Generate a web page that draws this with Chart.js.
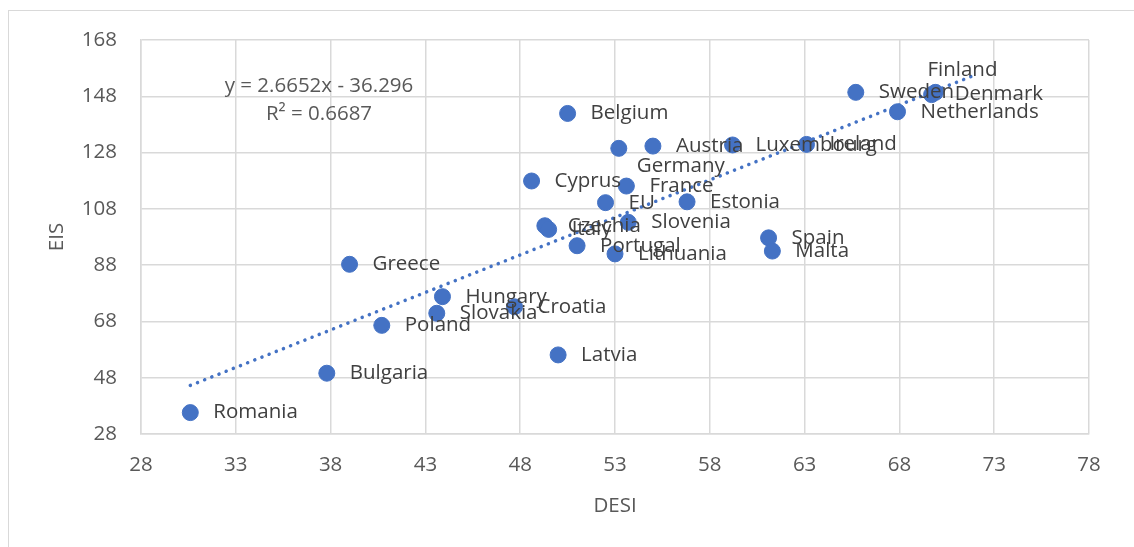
<!DOCTYPE html>
<html>
<head>
<meta charset="utf-8">
<script src="https://cdn.jsdelivr.net/npm/chart.js@4.4.1/dist/chart.umd.min.js"></script>
<style>
  html, body { margin: 0; padding: 0; background: #fff; overflow: hidden; }
  #wrap { position: relative; width: 1134px; height: 547px; }
  #frame { position: absolute; left: 8px; top: 10px; width: 1300px; height: 700px;
           border-top: 1px solid #d9d9d9; border-left: 1px solid #d9d9d9; }
  canvas { position: absolute; left: 0; top: 0; }
</style>
</head>
<body>
<div id="wrap">
  <div id="frame"></div>
  <canvas id="myChart" width="1134" height="547"></canvas>
</div>
<script>
// countries and their values (DESI on x, EIS on y)
const countries = ['Romania', 'Bulgaria', 'Greece', 'Poland', 'Hungary', 'Slovakia', 'Croatia',
  'Latvia', 'Belgium', 'Germany', 'Austria', 'Cyprus', 'France', 'EU', 'Estonia', 'Slovenia',
  'Czechia', 'Italy', 'Portugal', 'Lithuania', 'Luxembourg', 'Ireland', 'Sweden', 'Finland',
  'Denmark', 'Netherlands', 'Spain', 'Malta'];
const desi = [30.6, 37.8, 39.0, 40.7, 43.9, 43.6, 47.7,
  50.0, 50.5, 53.2, 55.0, 48.6, 53.6, 52.5, 56.8, 53.7,
  49.3, 49.5, 51.0, 53.0, 59.2, 63.1, 65.7, 69.9,
  69.7, 67.9, 61.1, 61.3];
const eis = [35.6, 49.6, 88.3, 66.6, 76.8, 70.9, 73.2,
  56.1, 141.9, 129.5, 130.3, 117.9, 116.1, 110.2, 110.5, 103.2,
  102.0, 100.7, 94.9, 92.0, 130.7, 130.9, 149.4, 149.4,
  148.6, 142.5, 97.7, 93.0];

// linear trendline as shown on the chart
const slope = 2.6652;
const intercept = -36.296;
const rSquared = 0.6687;
const trendX = [30.6, 72.0];

const xTicks = [28, 78, 5];   // min, max, step
const yTicks = [28, 168, 20];

const points = countries.map((c, i) => ({ x: desi[i], y: eis[i], name: c }));
const trend = trendX.map(x => ({ x: x, y: slope * x + intercept }));

// a few labels were dragged away from the default right-hand spot
const labelShift = {
  Finland: [-8, -22],
  Germany: [18, 18]
};

const FONT = '"Open Sans", "Liberation Sans", sans-serif';
const FSIZE = 20.5;
const BLUE = '#4472C4';

const labelPlugin = {
  id: 'pointLabels',
  afterDatasetsDraw(chart) {
    const ctx = chart.ctx;
    const meta = chart.getDatasetMeta(0);
    ctx.save();
    ctx.font = FSIZE + 'px ' + FONT;
    ctx.fillStyle = '#404040';
    ctx.textBaseline = 'middle';
    ctx.textAlign = 'left';
    meta.data.forEach((el, i) => {
      const name = countries[i];
      const s = labelShift[name];
      let x = el.x + 23, y = el.y;
      if (s) { x = el.x + s[0]; y = el.y + s[1]; }
      ctx.fillText(name, x, y);
    });
    // trendline equation
    const a = chart.chartArea;
    ctx.fillStyle = '#595959';
    ctx.textAlign = 'center';
    ctx.fillText('y = ' + slope + 'x - ' + Math.abs(intercept), a.left + 178, a.top + 46);
    ctx.fillText('R² = ' + rSquared, a.left + 178, a.top + 74);
    ctx.restore();
  }
};

let ctx = document.getElementById('myChart');
new Chart(ctx, {
  type: 'scatter',
  data: {
    datasets: [
      {
        data: points,
        backgroundColor: BLUE,
        borderColor: BLUE,
        pointRadius: 8,
        pointHoverRadius: 8,
        order: 1
      },
      {
        type: 'line',
        data: trend,
        showLine: true,
        borderColor: BLUE,
        borderWidth: 3.5,
        borderDash: [0.1, 7.6],
        borderCapStyle: 'round',
        pointRadius: 0,
        fill: false,
        order: 0
      }
    ]
  },
  options: {
    responsive: false,
    animation: false,
    layout: { padding: { top: 40, right: 45, bottom: 0, left: 0 } },
    plugins: {
      legend: { display: false },
      tooltip: { enabled: false }
    },
    scales: {
      x: {
        type: 'linear',
        min: xTicks[0], max: xTicks[1],
        ticks: { stepSize: xTicks[2], padding: 19, color: '#595959', font: { family: FONT, size: FSIZE } },
        grid: { color: '#d9d9d9', lineWidth: 1.5, drawTicks: false },
        border: { color: '#d9d9d9', width: 1.5 },
        title: { display: true, text: 'DESI', color: '#595959', font: { family: FONT, size: FSIZE }, padding: { top: 0, bottom: 29 } },
        afterFit(s) { s.height = 113; }
      },
      y: {
        type: 'linear',
        min: yTicks[0], max: yTicks[1],
        ticks: { stepSize: yTicks[2], padding: 24, color: '#595959', font: { family: FONT, size: FSIZE } },
        grid: { color: '#d9d9d9', lineWidth: 1.5, drawTicks: false },
        border: { color: '#d9d9d9', width: 1.5 },
        title: { display: true, text: 'EIS', color: '#595959', font: { family: FONT, size: FSIZE }, padding: { top: 45, bottom: 0 } },
        afterFit(s) { s.width = 141; }
      }
    }
  },
  plugins: [labelPlugin]
});
</script>
</body>
</html>
